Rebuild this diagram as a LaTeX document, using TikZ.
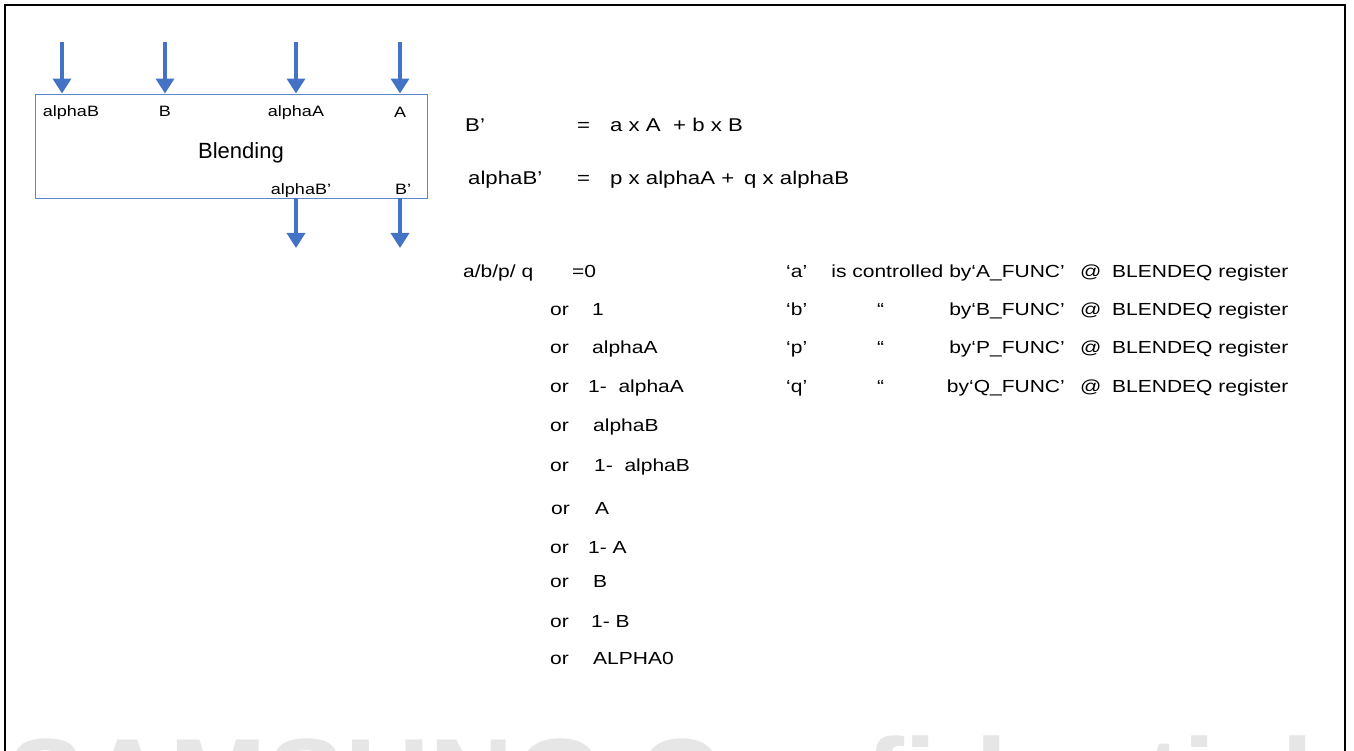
\documentclass[tikz,border=0pt]{standalone}
\usepackage{fontspec}
\setmainfont{Liberation Sans}
\newfontfamily\widesans[FakeStretch=1.2]{Liberation Sans}
\usetikzlibrary{arrows.meta,positioning}
\definecolor{arrblue}{HTML}{4472C4}
\definecolor{boxblue}{HTML}{5B86CC}
\definecolor{markgray}{HTML}{E6E6E6}

\begin{document}
\begin{tikzpicture}[x=1pt, y=-1pt,
    blk/.style={draw=boxblue, line width=0.9pt, minimum width=392pt, minimum height=104pt, inner sep=0pt},
    port/.style={anchor=base, inner sep=0pt, font={\widesans\fontsize{15}{18}\selectfont}},
    eqn/.style={anchor=base west, inner sep=0pt, font={\widesans\fontsize{18.5}{22}\selectfont}},
    lst/.style={anchor=base west, inner sep=0pt, font={\widesans\fontsize{17.5}{20}\selectfont}},
    arr/.style={arrblue, line width=3.5pt, -{Triangle[width=18pt,length=15pt]}}
]
\useasboundingbox (0,0) rectangle (1354,751);
% watermark and frame
\node[anchor=base west, inner sep=0pt, text=markgray, font={\bfseries\fontsize{117}{120}\selectfont}] (mark) at (7,820) {SAMSUNG Confidential};
\draw[line width=2pt] (5,770) -- (5,5) -- (1345,5) -- (1345,770);

% blending block
\node[blk] (blend) at (231,146) {};
\node[anchor=base, inner sep=0pt, font={\fontsize{22}{26}\selectfont}] (blendtxt) at (241,159) {Blending};
\node[port] (pinaB) at (71,117) {alphaB};
\node[port] (pinB) at (165,117) {B};
\node[port] (pinaA) at (296,117) {alphaA};
\node[port] (pinA) at (400,118) {A};
\node[port] (poutaB) at (301,195) {alphaB’};
\node[port] (poutB) at (403,195) {B’};

\coordinate (inaB) at (62,42);
\coordinate (inB) at (165,42);
\coordinate (inaA) at (296,42);
\coordinate (inA) at (400,42);
\coordinate (outaB) at (296,248);
\coordinate (outB) at (400,248);
\draw[arr] (inaB) -- (inaB |- blend.north);
\draw[arr] (inB) -- (inB |- blend.north);
\draw[arr] (inaA) -- (inaA |- blend.north);
\draw[arr] (inA) -- (inA |- blend.north);
\draw[arr] (outaB |- blend.south) -- (outaB);
\draw[arr] (outB |- blend.south) -- (outB);

% equations
\node[eqn] (eqB) at (465,132) {B’};
\node[eqn] (eqBeq) at (577,132) {=};
\node[eqn] (eqBrhs) at (610,132) {a x A\ \ + b x B};
\node[eqn] (eqaB) at (468,185) {alphaB’};
\node[eqn] (eqaBeq) at (577,185) {=};
\node[eqn] (eqaBrhs) at (610,185) {p x alphaA +\hspace{10pt}q x alphaB};

% coefficient choices
\node[lst] (coef) at (463,277) {a/b/p/ q};
\node[lst] (val0) at (572,277) {=0};
\node[lst] (or1) at (550,315) {or};
\node[lst] (val1) at (592,315) {1};
\node[lst] (or2) at (550,353) {or};
\node[lst] (val2) at (592,353) {alphaA};
\node[lst] (or3) at (550,392) {or};
\node[lst] (val3) at (588,392) {1-\ \ alphaA};
\node[lst] (or4) at (550,431) {or};
\node[lst] (val4) at (593,431) {alphaB};
\node[lst] (or5) at (550,471) {or};
\node[lst] (val5) at (594,471) {1-\ \ alphaB};
\node[lst] (or6) at (551,514) {or};
\node[lst] (val6) at (595,514) {A};
\node[lst] (or7) at (550,553) {or};
\node[lst] (val7) at (588,553) {1- A};
\node[lst] (or8) at (550,587) {or};
\node[lst] (val8) at (593,587) {B};
\node[lst] (or9) at (550,627) {or};
\node[lst] (val9) at (591,627) {1- B};
\node[lst] (or10) at (550,664) {or};
\node[lst] (val10) at (593,664) {ALPHA0};

% register notes
\node[lst] (ca) at (786,277) {‘a’};
\node[lst, anchor=base east] (fa) at (1065,277) {is controlled by‘A\_FUNC’};
\node[lst] (ata) at (1080,277) {@};
\node[lst] (rega) at (1112,277) {BLENDEQ register};
\node[lst] (cb) at (786,315) {‘b’};
\node[lst] (dtb) at (877,315) {“};
\node[lst, anchor=base east] (fb) at (1065,315) {by‘B\_FUNC’};
\node[lst] (atb) at (1080,315) {@};
\node[lst] (regb) at (1112,315) {BLENDEQ register};
\node[lst] (cp) at (786,353) {‘p’};
\node[lst] (dtp) at (877,353) {“};
\node[lst, anchor=base east] (fp) at (1065,353) {by‘P\_FUNC’};
\node[lst] (atp) at (1080,353) {@};
\node[lst] (regp) at (1112,353) {BLENDEQ register};
\node[lst] (cq) at (786,392) {‘q’};
\node[lst] (dtq) at (877,392) {“};
\node[lst, anchor=base east] (fq) at (1065,392) {by‘Q\_FUNC’};
\node[lst] (atq) at (1080,392) {@};
\node[lst] (regq) at (1112,392) {BLENDEQ register};
\end{tikzpicture}
\end{document}
